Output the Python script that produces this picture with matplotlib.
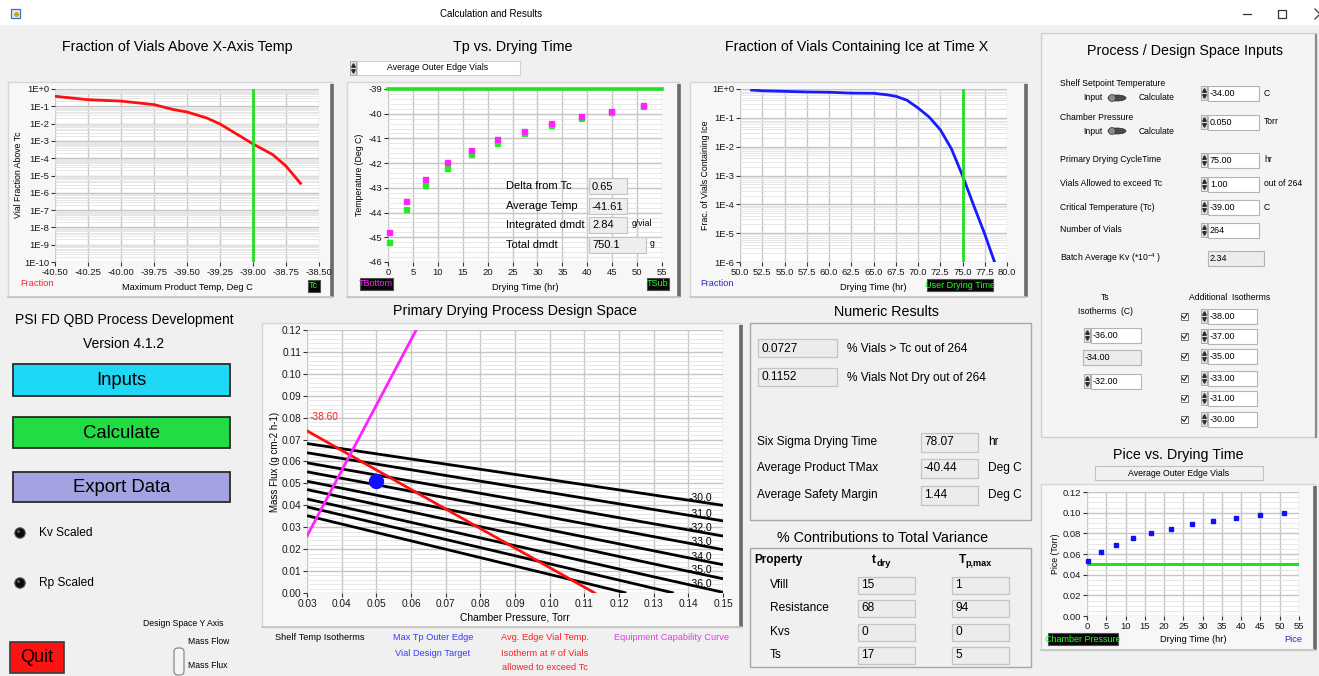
import numpy as np
import matplotlib
matplotlib.use("Agg")
import matplotlib.pyplot as plt
from matplotlib.patches import Rectangle, FancyBboxPatch, Circle, Ellipse
from matplotlib.ticker import (FixedLocator, MultipleLocator, FormatStrFormatter,
                               FuncFormatter, NullFormatter)

plt.rcParams['font.family'] = ['Liberation Sans', 'DejaVu Sans']
plt.rcParams['axes.unicode_minus'] = False
plt.rcParams['mathtext.fontset'] = 'custom'
plt.rcParams['mathtext.rm'] = 'Liberation Sans'
plt.rcParams['mathtext.it'] = 'Liberation Sans:italic'
plt.rcParams['mathtext.bf'] = 'Liberation Sans:bold'

SANS = ['Liberation Sans', 'DejaVu Sans']
NARROW = ['Liberation Sans Narrow', 'Liberation Sans', 'DejaVu Sans']

# ---------------------------------------------------------------- data
# Fraction of vials whose max product temperature exceeds x
frac_temp = [-40.50, -40.25, -40.00, -39.75, -39.60, -39.50, -39.35, -39.25,
             -39.00, -38.85, -38.75, -38.64]
frac_above = [0.38, 0.24, 0.20, 0.125, 0.064, 0.047, 0.021, 0.0095,
              6.7e-4, 1.6e-4, 3.5e-5, 3.5e-6]
critical_temp = -39.0

# Product temperature vs drying time (average outer edge vials)
dry_time = [0.13, 3.6, 7.5, 11.9, 16.6, 21.8, 27.2, 32.8, 38.7, 44.8, 51.2]
t_bottom = [-44.80, -43.53, -42.66, -41.97, -41.47, -41.02, -40.69, -40.38,
            -40.11, -39.88, -39.65]
t_sub = [-45.19, -43.84, -42.90, -42.21, -41.65, -41.19, -40.79, -40.46,
         -40.17, -39.92, -39.67]

# Fraction of vials still containing ice
ice_time = [51.3, 52.5, 55.0, 57.5, 60.0, 62.5, 65.0, 66.5, 67.5, 68.75, 70.0,
            71.25, 72.5, 73.75, 75.0, 76.25, 77.5, 78.6]
ice_frac = [0.92, 0.87, 0.83, 0.79, 0.77, 0.72, 0.71, 0.63, 0.56, 0.41, 0.22,
            0.107, 0.039, 0.0085, 1.0e-3, 9.3e-5, 9.3e-6, 1.0e-6]
user_drying_time = 75.0

# Design space: shelf temperature isotherms (mass flux vs chamber pressure)
iso_temps = [-30.0, -31.0, -32.0, -33.0, -34.0, -35.0, -36.0, -37.0, -38.0]
iso_p_start = [0.03] * 9
iso_flux_start = [0.0682, 0.0640, 0.0594, 0.0553, 0.0510, 0.0472, 0.0429,
                  0.0393, 0.0353]
iso_p_end = [0.15, 0.15, 0.15, 0.15, 0.15, 0.15, 0.15, 0.1358, 0.1221]
iso_flux_end = [0.0400, 0.0329, 0.0260, 0.0198, 0.0129, 0.0065, 0.0003,
                0.0, 0.0]
edge_iso_label = "-38.60"
edge_iso_p = [0.03, 0.113]
edge_iso_flux = [0.074, 0.0]
equip_p = [0.03, 0.0615]
equip_flux = [0.026, 0.12]
design_point_p = 0.05
design_point_flux = 0.051

# Ice pressure vs drying time
pice = [0.0529, 0.0623, 0.0690, 0.0752, 0.0803, 0.0842, 0.0887, 0.0916,
        0.0945, 0.0977, 0.1000]
chamber_pressure = 0.05

# Readouts
tp_readouts = [("Delta from Tc", "0.65", ""), ("Average Temp", "-41.61", ""),
               ("Integrated dmdt", "2.84", "g/vial"), ("Total dmdt", "750.1", "g")]
numeric_top = [("0.0727", "% Vials > Tc out of 264"),
               ("0.1152", "% Vials Not Dry out of 264")]
numeric_mid = [("Six Sigma Drying Time", "78.07", "hr"),
               ("Average Product TMax", "-40.44", "Deg C"),
               ("Average Safety Margin", "1.44", "Deg C")]
contrib_props = ["Vfill", "Resistance", "Kvs", "Ts"]
contrib_tdry = [15, 68, 0, 17]
contrib_tpmax = [1, 94, 0, 5]
ts_isotherms = ["-36.00", "-34.00", "-32.00"]
additional_isotherms = ["-38.00", "-37.00", "-35.00", "-33.00", "-31.00", "-30.00"]
input_rows = [("Primary Drying CycleTime", "75.00", "hr"),
              ("Vials Allowed to exceed Tc", "1.00", "out of 264"),
              ("Critical Temperature (Tc)", "-39.00", "C"),
              ("Number of Vials", "264", "")]

# ---------------------------------------------------------------- canvas
W, H = 1319, 676
fig = plt.figure(figsize=(W / 100, H / 100), dpi=100)
fig.patch.set_facecolor('#f0f0f0')


def overlay(z):
    a = fig.add_axes([0, 0, 1, 1], zorder=z)
    a.set_xlim(0, W)
    a.set_ylim(H, 0)
    a.axis('off')
    a.patch.set_alpha(0)
    return a


bg = overlay(0)
fg = overlay(20)


def rect(ax, x0, y0, x1, y1, fc, ec='none', lw=0.8, z=1, **kw):
    ax.add_patch(Rectangle((x0, y0), x1 - x0, y1 - y0, facecolor=fc,
                           edgecolor=ec, lw=lw, zorder=z, **kw))


def txt(x, y, s, size=7, color='black', ha='left', va='center', family=SANS,
        weight='normal', ax=None, **kw):
    (ax or fg).text(x, y, s, fontsize=size, color=color, ha=ha, va=va,
                    family=family, weight=weight, zorder=30, **kw)


def frame(x0, y0, x1, y1):
    rect(bg, x0, y0, x1, y1, '#f7f7f7', '#d6d6d6', 1.0)
    bg.plot([x1, x1], [y0 + 2, y1], color='#6a6a6a', lw=2.6, zorder=2,
            solid_capstyle='butt')
    bg.plot([x0, x1], [y1, y1], color='#c4c4c4', lw=1.2, zorder=2)


def badge(cx, cy, w, s, color):
    rect(fg, cx - w / 2, cy - 6, cx + w / 2, cy + 6, '#050505', '#505050', 0.8, z=25)
    txt(cx, cy, s, 6.5, color, ha='center', family=NARROW)


def spinner(x, y):
    rect(fg, x - 3, y - 7, x + 3, y + 7, '#e4e4e4', '#a0a0a0', 0.6, z=25)
    fg.plot([x], [y - 3], marker='^', ms=2.6, color='#303030', zorder=26)
    fg.plot([x], [y + 3], marker='v', ms=2.6, color='#303030', zorder=26)


def field(x0, x1, y, s, fc='white', size=6.5, h=15, family=NARROW):
    rect(fg, x0, y - h / 2, x1, y + h / 2, fc, '#b4b4b4', 0.8, z=25)
    txt(x0 + 2, y + 0.5, s, size, family=family)


# title bar
rect(bg, 0, 0, W, 25, 'white')
rect(fg, 11, 9, 20, 18, '#dfe9f7', '#3b6fc4', 0.9)
fg.plot([15.5], [13.5], marker='o', ms=2.5, color='#d6a400', zorder=26)
txt(491, 14, "Calculation and Results", 7, family=NARROW, ha='center')
fg.plot([1243, 1251], [14, 14], color='#333333', lw=0.9)
rect(fg, 1278, 10, 1286, 18, 'none', '#333333', 0.9)
fg.plot([1315, 1320], [9, 14], color='#333333', lw=0.9, clip_on=True)
fg.plot([1315, 1320], [19, 14], color='#333333', lw=0.9, clip_on=True)

# panel backgrounds
frame(8, 82, 332, 297)
frame(347, 82, 679, 297)
frame(690, 82, 1026, 297)
frame(262, 323, 741, 627)
frame(1041, 484, 1315, 650)
rect(bg, 1041, 33, 1316, 437, '#f4f4f4', '#cfcfcf', 1.0)
bg.plot([1316, 1316], [35, 437], color='#8a8a8a', lw=1.6, zorder=2)
rect(bg, 750, 323, 1031, 520, '#f0f0f0', '#a8a8a8', 1.0)
rect(bg, 750, 548, 1031, 667, '#f0f0f0', '#a8a8a8', 1.0)


# ---------------------------------------------------------------- charts
def chart_axes(x0, y0, x1, y1, labelsize=6.8):
    ax = fig.add_axes([x0 / W, 1 - y1 / H, (x1 - x0) / W, (y1 - y0) / H], zorder=5)
    ax.set_facecolor('white')
    for s in ax.spines.values():
        s.set_visible(False)
    ax.tick_params(which='major', direction='out', length=3, width=0.8,
                   color='#333333', labelsize=labelsize, pad=1.2,
                   labelfontfamily=NARROW, labelcolor='#1a1a1a')
    ax.tick_params(which='minor', length=0)
    ax.set_axisbelow(True)
    ax.grid(True, which='major', color='#c6c6c6', lw=1.0)
    ax.grid(True, which='minor', axis='y', color='#e3e3e3', lw=0.6)
    return ax


def log_label(v, _pos):
    k = int(round(np.log10(v)))
    return "1E+0" if k == 0 else f"1E{k}"


def log_y(ax, lo, hi):
    ax.set_yscale('log')
    ax.set_ylim(10.0 ** lo, 10.0 ** hi)
    ax.yaxis.set_major_locator(FixedLocator([10.0 ** k for k in range(lo, hi + 1)]))
    ax.yaxis.set_minor_locator(FixedLocator(
        [m * 10.0 ** k for k in range(lo, hi) for m in range(2, 10)]))
    ax.yaxis.set_major_formatter(FuncFormatter(log_label))
    ax.yaxis.set_minor_formatter(NullFormatter())


# Fraction of vials above temperature
ax1 = chart_axes(55, 89, 319, 262)
log_y(ax1, -10, 0)
ax1.set_xlim(-40.5, -38.5)
ax1.xaxis.set_major_locator(MultipleLocator(0.25))
ax1.xaxis.set_major_formatter(FormatStrFormatter('%.2f'))
ax1.plot(frac_temp, frac_above, color='#ff1010', lw=2.0, zorder=3)
ax1.axvline(critical_temp, color='#22e022', lw=2.0, zorder=4)

# Tp vs drying time
ax2 = chart_axes(388, 89, 662, 262)
ax2.set_xlim(0, 55)
ax2.set_ylim(-46, -39)
ax2.xaxis.set_major_locator(MultipleLocator(5))
ax2.yaxis.set_major_locator(MultipleLocator(1))
ax2.yaxis.set_minor_locator(MultipleLocator(0.2))
ax2.xaxis.set_major_formatter(FormatStrFormatter('%d'))
ax2.yaxis.set_major_formatter(FormatStrFormatter('%d'))
ax2.axhline(critical_temp, color='#22e022', lw=2.6, zorder=3, clip_on=False)
ax2.plot(dry_time, t_sub, 's', ms=3.6, color='#22ee22', zorder=4, clip_on=False)
ax2.plot(dry_time, t_bottom, 's', ms=3.6, color='#ff22ff', zorder=5, clip_on=False)

# Fraction of vials containing ice
ax3 = chart_axes(740, 89, 1007, 262)
log_y(ax3, -6, 0)
ax3.set_xlim(50, 80)
ax3.xaxis.set_major_locator(MultipleLocator(2.5))
ax3.xaxis.set_major_formatter(FormatStrFormatter('%.1f'))
ax3.plot(ice_time, ice_frac, color='#1a1aff', lw=2.0, zorder=3)
ax3.axvline(user_drying_time, color='#22e022', lw=2.0, zorder=4)

# Primary drying design space
ax5 = chart_axes(307, 330, 723, 593, labelsize=7.3)
ax5.set_xlim(0.03, 0.15)
ax5.set_ylim(0, 0.12)
ax5.xaxis.set_major_locator(MultipleLocator(0.01))
ax5.yaxis.set_major_locator(MultipleLocator(0.01))
ax5.yaxis.set_minor_locator(MultipleLocator(0.002))
ax5.xaxis.set_major_formatter(FormatStrFormatter('%.2f'))
ax5.yaxis.set_major_formatter(FormatStrFormatter('%.2f'))
label_p = 0.1434
for t, p0, f0, p1, f1 in zip(iso_temps, iso_p_start, iso_flux_start,
                             iso_p_end, iso_flux_end):
    ax5.plot([p0, p1], [f0, f1], color='black', lw=2.0, zorder=3,
             solid_capstyle='butt')
    if p1 >= 0.15:
        fl = f0 + (f1 - f0) * (label_p - p0) / (p1 - p0)
        ax5.text(label_p, fl + 0.0016, f"{t:.1f}", fontsize=7.5, ha='center',
                 va='center', family=NARROW, zorder=4)
ax5.plot(edge_iso_p, edge_iso_flux, color='#ff1010', lw=2.0, zorder=5)
ax5.annotate(edge_iso_label, (edge_iso_p[0], edge_iso_flux[0]), xytext=(2, 6),
             textcoords='offset points', color='#ff2020', fontsize=7.3,
             family=NARROW, va='bottom')
ax5.plot(equip_p, equip_flux, color='#ff22ff', lw=2.0, zorder=5)
ax5.plot([design_point_p], [design_point_flux], 'o', ms=10, color='#1010ff',
         zorder=6)

# Pice vs drying time
ax7 = chart_axes(1087, 492, 1299, 616)
ax7.set_xlim(0, 55)
ax7.set_ylim(0, 0.12)
ax7.xaxis.set_major_locator(MultipleLocator(5))
ax7.yaxis.set_major_locator(MultipleLocator(0.02))
ax7.yaxis.set_minor_locator(MultipleLocator(0.005))
ax7.xaxis.set_major_formatter(FormatStrFormatter('%d'))
ax7.yaxis.set_major_formatter(FormatStrFormatter('%.2f'))
ax7.axhline(chamber_pressure, color='#22e022', lw=2.2, zorder=3)
ax7.plot(dry_time, pice, 's', ms=3.4, color='#1010ff', zorder=4, clip_on=False)

# ---------------------------------------------------------------- titles and labels
for x, y, s in [(177, 47, "Fraction of Vials Above X-Axis Temp"),
                (513, 47, "Tp vs. Drying Time"),
                (857, 47, "Fraction of Vials Containing Ice at Time X"),
                (1185, 51, "Process / Design Space Inputs"),
                (515, 311, "Primary Drying Process Design Space"),
                (886, 312, "Numeric Results"),
                (883, 538, "% Contributions to Total Variance"),
                (1178, 455, "Pice vs. Drying Time")]:
    txt(x, y, s, 10.3, ha='center')

for x, y, s in [(187, 287, "Maximum Product Temp, Deg C"),
                (525, 287, "Drying Time (hr)"),
                (873, 287, "Drying Time (hr)"),
                (1193, 639, "Drying Time (hr)")]:
    txt(x, y, s, 6.7, ha='center', family=NARROW)
txt(515, 617, "Chamber Pressure, Torr", 7.4, ha='center', family=NARROW)
for x, y, s in [(19, 175, "Vial Fraction Above Tc"),
                (360, 175, "Temperature (Deg C)"),
                (705, 175, "Frac. of Vials Containing Ice"),
                (1056, 554, "Pice (Torr)")]:
    txt(x, y, s, 6.3, ha='center', family=NARROW, rotation=90)
txt(275, 462, "Mass Flux (g cm-2 h-1)", 7, ha='center', family=NARROW, rotation=90)

txt(20, 284, "Fraction", 6.7, '#ff2020', family=NARROW)
badge(313.5, 286, 12, "Tc", '#22ff22')
badge(376, 284, 33, "TBottom", '#ff22ff')
badge(658, 284, 22, "TSub", '#22ff22')
txt(700, 284, "Fraction", 6.7, '#2a2acc', family=NARROW)
badge(960, 285, 66, "User Drying Time", '#22ff22')
badge(1083, 639, 70, "Chamber Pressure", '#22ff22')
txt(1293, 639, "Pice", 6.7, '#2a2acc', ha='center', family=NARROW)

# selectors above Tp and Pice charts
spinner(353, 68)
rect(fg, 357, 61, 520, 75, 'white', '#d0d0d0', 0.8)
txt(438, 68, "Average Outer Edge Vials", 6.3, ha='center', family=NARROW)
rect(fg, 1095, 466, 1263, 480, '#f0f0f0', '#c0c0c0', 0.8)
txt(1179, 473, "Average Outer Edge Vials", 6.3, ha='center', family=NARROW)

# readouts inside Tp chart
for (lab, val, unit), y in zip(tp_readouts, [186, 206, 225, 245]):
    txt(506, y, lab, 8)
    x1 = 646 if lab == "Total dmdt" else 627
    rect(fg, 589, y - 8, x1, y + 8, '#eeeeee', '#c4c4c4', 0.8, z=25)
    txt(592, y + 0.5, val, 8)
    if unit:
        txt(632 if unit != "g" else 650, y - 2, unit, 6.2, family=NARROW)

# design space legend
txt(320, 637, "Shelf Temp Isotherms", 6.7, ha='center', family=NARROW)
txt(433, 637, "Max Tp Outer Edge", 6.7, '#3a3aff', ha='center', family=NARROW)
txt(433, 653, "Vial Design Target", 6.7, '#3a3aff', ha='center', family=NARROW)
txt(545, 637, "Avg. Edge Vial Temp.", 6.7, '#ff2020', ha='center', family=NARROW)
txt(545, 653, "Isotherm at # of Vials", 6.7, '#ff2020', ha='center', family=NARROW)
txt(545, 668, "allowed to exceed Tc", 6.7, '#ff2020', ha='center', family=NARROW)
txt(672, 637, "Equipment Capability Curve", 6.7, '#e040e0', ha='center', family=NARROW)

# ---------------------------------------------------------------- numeric results
for (val, lab), y in zip(numeric_top, [348, 377]):
    rect(fg, 758, y - 9, 837, y + 9, '#ececec', '#c4c4c4', 0.9)
    txt(762, y + 0.5, val, 8.6)
    txt(847, y + 0.5, lab, 8.6)
for (lab, val, unit), y in zip(numeric_mid, [442, 468, 495]):
    txt(757, y, lab, 8.6)
    rect(fg, 921, y - 9.5, 978, y + 9.5, '#ececec', '#c4c4c4', 0.9)
    txt(924, y, val, 8.6)
    txt(988, y, unit, 8.6)

txt(754, 560, "Property", 8.5, weight='bold')
txt(872, 560, "t", 8.6, weight='bold', ha='left')
txt(877, 563, "dry", 6.6, weight='bold', ha='left')
txt(959, 560, "T", 8.6, weight='bold', ha='left')
txt(965, 563, "p,max", 6.6, weight='bold', ha='left')
for prop, a, b, y in zip(contrib_props, contrib_tdry, contrib_tpmax, [585, 608, 632, 655]):
    txt(770, y, prop, 8.6)
    rect(fg, 858, y - 8.5, 915, y + 8.5, '#ececec', '#c4c4c4', 0.9)
    txt(861, y, str(a), 8.6)
    rect(fg, 952, y - 8.5, 1009, y + 8.5, '#ececec', '#c4c4c4', 0.9)
    txt(955, y, str(b), 8.6)

# ---------------------------------------------------------------- process inputs
def toggle(x, y):
    fg.add_patch(Ellipse((x, y), 18, 6, facecolor='#4a4a4a', edgecolor='#2a2a2a',
                         lw=0.5, zorder=25))
    fg.add_patch(Ellipse((x - 5, y), 7, 7, facecolor='#8a8a8a', edgecolor='#333333',
                         lw=0.5, zorder=26))


txt(1060, 83, "Shelf Setpoint Temperature", 6.2, family=NARROW)
txt(1083, 98, "Input", 6.2, family=NARROW)
toggle(1117, 98)
txt(1139, 98, "Calculate", 6.2, family=NARROW)
spinner(1204, 93)
field(1208, 1259, 93, "-34.00")
txt(1264, 93, "C", 6.2, family=NARROW)

txt(1060, 117, "Chamber Pressure", 6.2, family=NARROW)
txt(1083, 131, "Input", 6.2, family=NARROW)
toggle(1117, 131)
txt(1139, 131, "Calculate", 6.2, family=NARROW)
spinner(1204, 122)
field(1208, 1259, 122, "0.050")
txt(1264, 122, "Torr", 6.2, family=NARROW)

for (lab, val, unit), y in zip(input_rows, [160, 184, 207, 230]):
    txt(1060, y, lab, 6.2, family=NARROW)
    spinner(1204, y)
    field(1208, 1259, y, val)
    if unit:
        txt(1264, y, unit, 6.2, family=NARROW)

txt(1060, 258, r"Batch Average Kv (*10$^{-4}$ )", 6.2, family=NARROW)
field(1208, 1264, 258, "2.34", fc='#ececec')

txt(1105, 297, "Ts", 6.2, ha='center', family=NARROW)
txt(1105, 311, "Isotherms  (C)", 6.2, ha='center', family=NARROW)
for s, y in zip(ts_isotherms, [335, 357, 381]):
    if y == 357:
        field(1083, 1141, y, s, fc='#ececec')
    else:
        spinner(1087, y)
        field(1091, 1141, y, s)

txt(1230, 298, "Additional  Isotherms", 6.2, ha='center', family=NARROW)
for s, y in zip(additional_isotherms, [316, 336, 356, 378, 398, 419]):
    rect(fg, 1181, y - 3, 1188, y + 4, 'white', '#707070', 0.7, z=25)
    fg.plot([1182.2, 1184.2, 1187], [y + 0.3, y + 2.5, y - 2], color='#202020',
            lw=0.8, zorder=26)
    spinner(1204, y)
    field(1208, 1257, y, s)

# ---------------------------------------------------------------- left controls
txt(124, 320, "PSI FD QBD Process Development", 10, ha='center')
txt(124, 344, "Version 4.1.2", 10, ha='center')
for (y0, y1, fc, s) in [(364, 396, '#1fd8f6', "Inputs"),
                        (417, 448, '#22dc44', "Calculate"),
                        (472, 502, '#a3a3e2', "Export Data")]:
    rect(fg, 13, y0, 230, y1, fc, '#2a2a2a', 1.3)
    txt(121.5, (y0 + y1) / 2 + 0.5, s, 13.3, ha='center')
for y, s in [(533, "Kv Scaled"), (583, "Rp Scaled")]:
    fg.add_patch(Circle((20, y), 5.2, facecolor='#0a0a0a', edgecolor='#555555',
                        lw=0.8, zorder=25))
    fg.add_patch(Circle((18.5, y - 1.5), 1.4, facecolor='#666666', edgecolor='none',
                        zorder=26))
    txt(39, y, s, 8.6)
txt(183, 623, "Design Space Y Axis", 6.2, ha='center', family=NARROW)
txt(188, 641, "Mass Flow", 6.2, family=NARROW)
txt(188, 666, "Mass Flux", 6.2, family=NARROW)
fg.add_patch(FancyBboxPatch((174, 648), 10, 27, boxstyle="round,pad=0,rounding_size=4",
                            facecolor='#f4f4f4', edgecolor='#8a8a8a', lw=0.9, zorder=25))
rect(fg, 10, 642, 64, 673, '#ff1212', '#3a3a3a', 1.2)
txt(37, 658, "Quit", 13, ha='center')

fig.savefig("out.png", dpi=100, facecolor=fig.get_facecolor())
